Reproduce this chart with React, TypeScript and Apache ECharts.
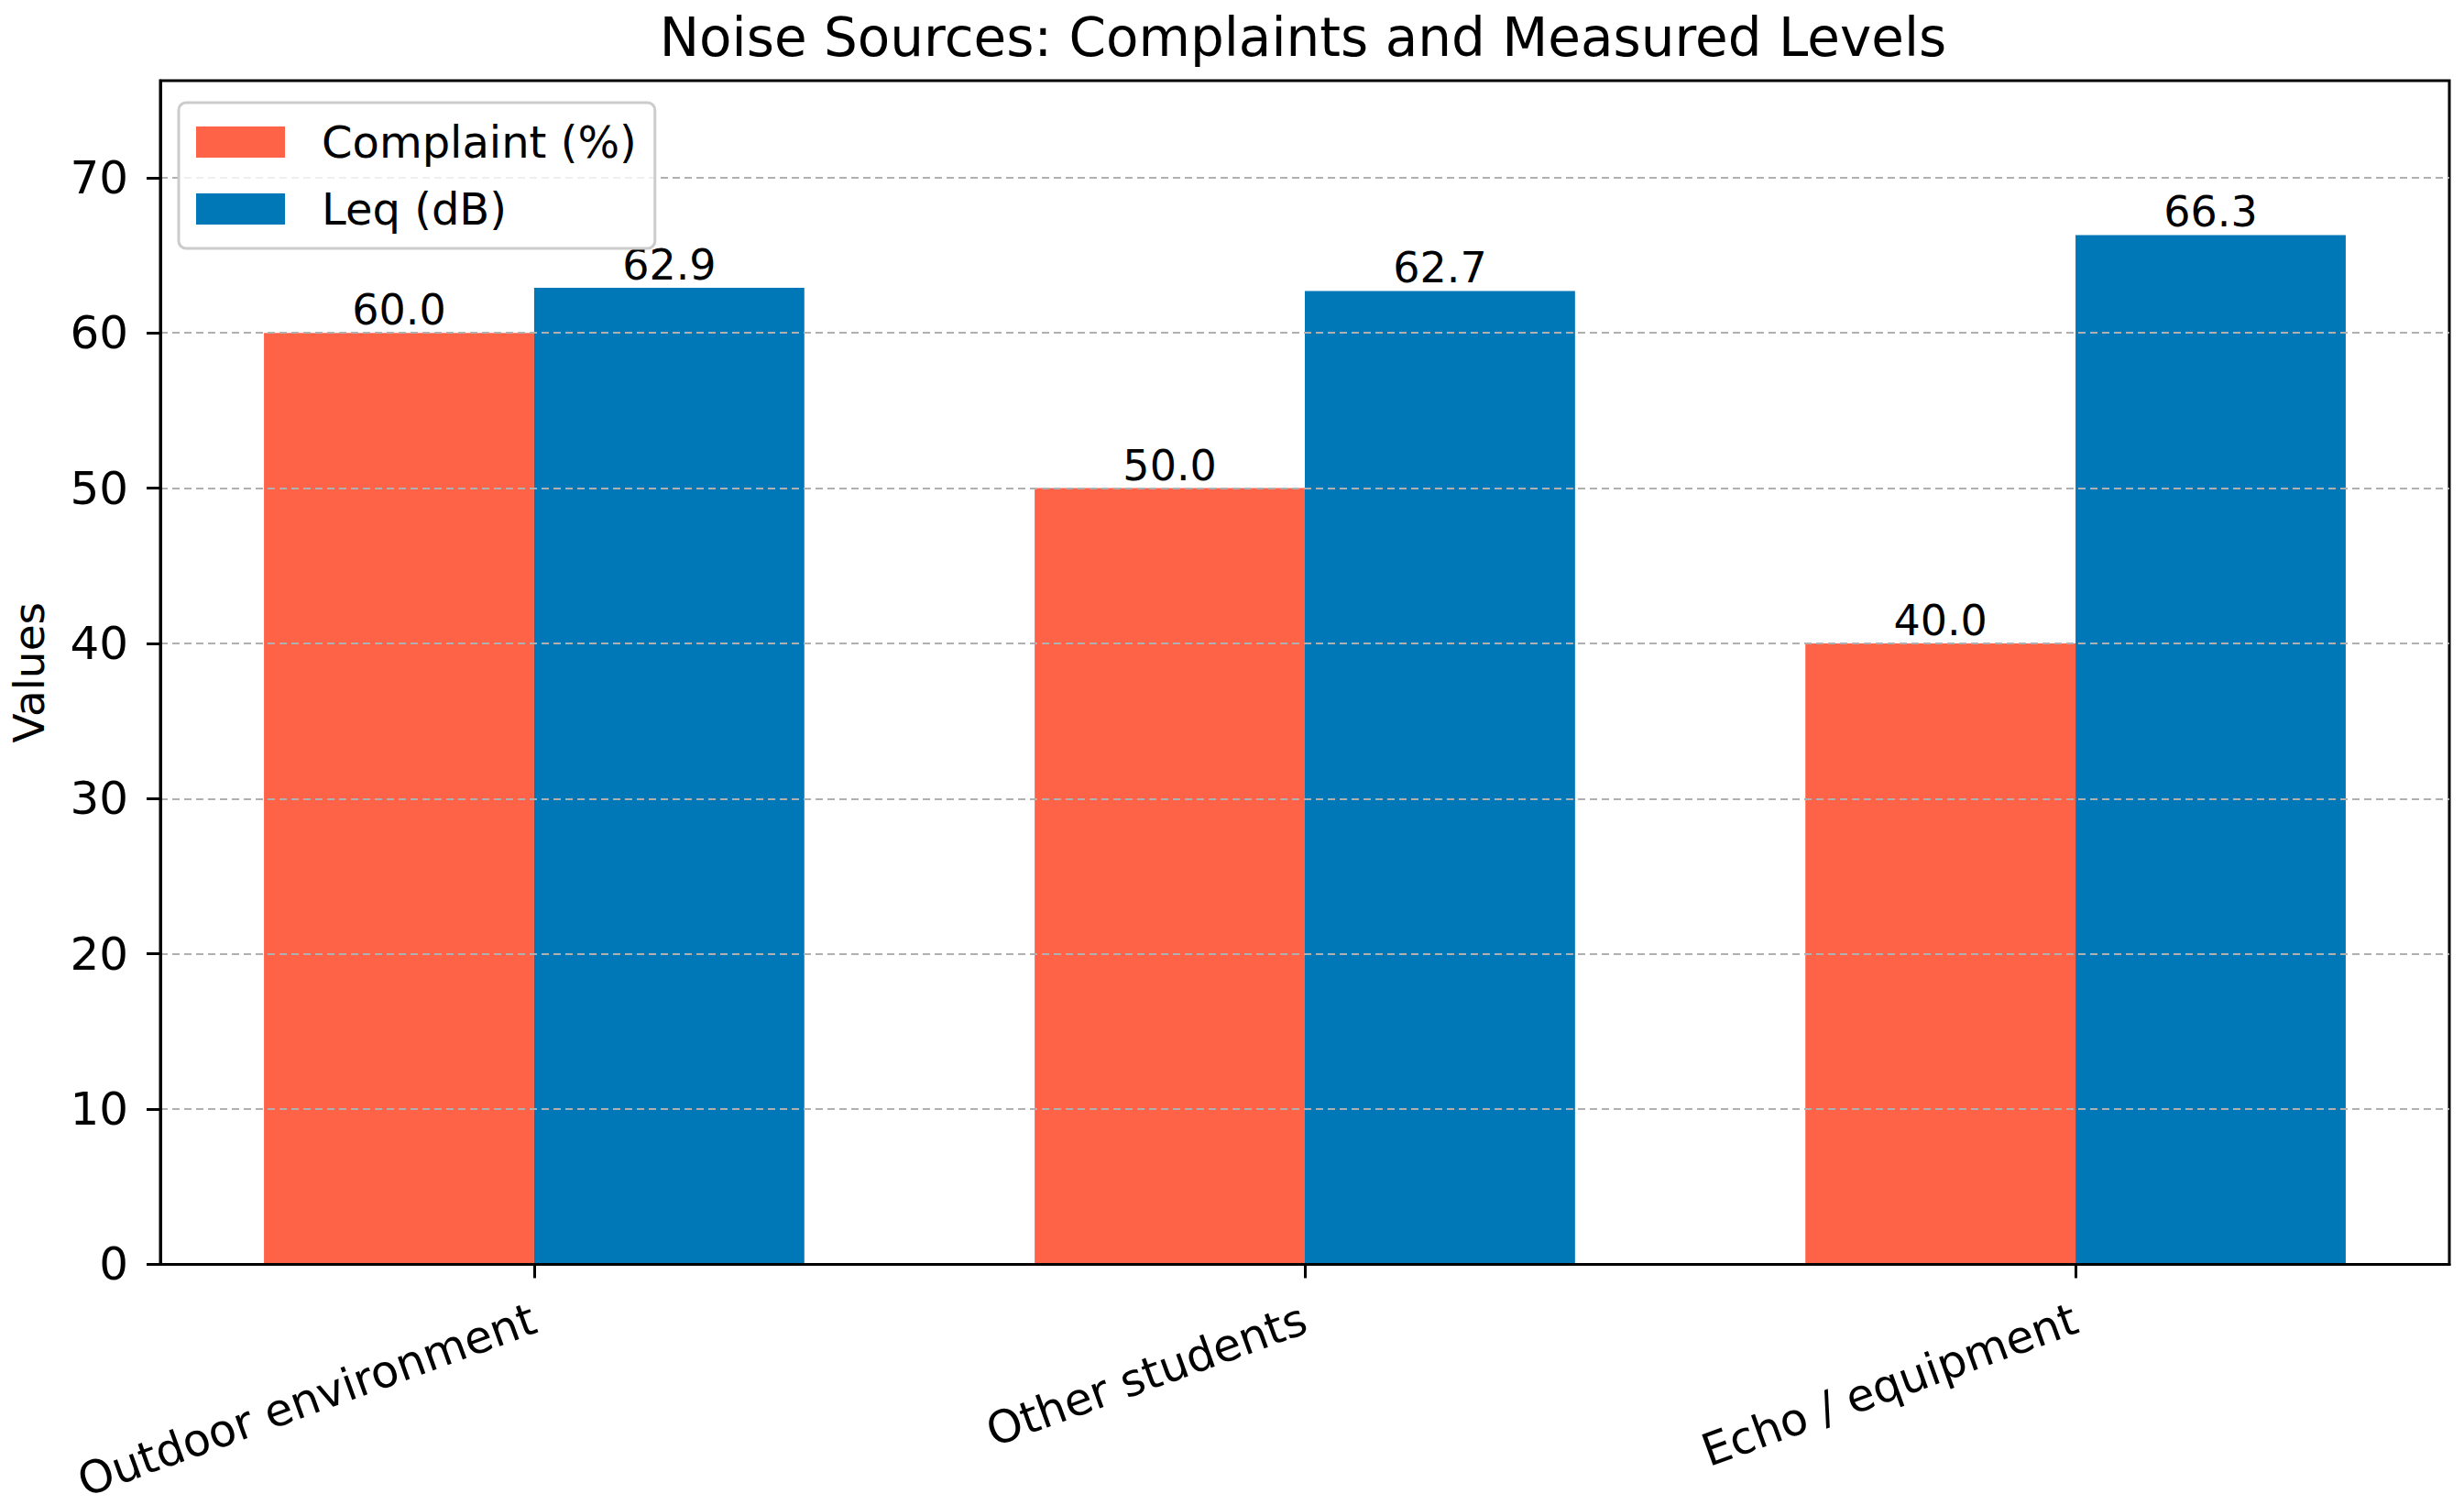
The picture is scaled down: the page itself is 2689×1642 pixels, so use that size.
import React, { useEffect, useRef } from "react";
import * as echarts from "echarts";

const categories = ["Outdoor environment", "Other students", "Echo / equipment"];
const complaintValues = [60.0, 50.0, 40.0];
const leqValues = [62.9, 62.7, 66.3];
const seriesNames = ["Complaint (%)", "Leq (dB)"];
const yTickStep = 10;
const titleText = "Noise Sources: Complaints and Measured Levels";

const W = 2689;
const H = 1642;
const FONT = "DejaVu Sans";

export default function App() {
  const ref = useRef<HTMLDivElement>(null);
  useEffect(() => {
    document.body.style.margin = "0";
    const chart = echarts.init(ref.current!, null, { renderer: "svg" });
    const plotLeft = 171;
    const plotRight = 2673;
    const plotTop = 88;
    const plotBottom = 1383;
    const xMin = -0.485;
    const xMax = categories.length - 1 + 0.485;
    const unit = (plotRight - plotLeft) / (xMax - xMin);
    const barW = 0.35 * unit;
    const yMax = Math.max(...complaintValues, ...leqValues) * 1.15;
    const idx = categories.map((_, i) => i);

    const labelStyle = {
      show: true,
      position: "top",
      distance: 2,
      color: "#000",
      fontFamily: FONT,
      fontSize: 46,
      formatter: (p: any) => Number(p.value[1]).toFixed(1),
    };

    chart.setOption({
      animation: false,
      backgroundColor: "#fff",
      graphic: [
        {
          type: "text",
          x: (plotLeft + plotRight) / 2,
          y: 41,
          style: {
            text: titleText,
            fontFamily: FONT,
            fontSize: 58,
            fill: "#000",
            textAlign: "center",
            textVerticalAlign: "middle",
          },
        },
      ],
      legend: {
        data: seriesNames,
        orient: "vertical",
        left: 195,
        top: 112,
        icon: "rect",
        itemWidth: 97,
        itemHeight: 34,
        itemGap: 25,
        padding: [19, 20, 19, 19],
        borderColor: "#cccccc",
        borderWidth: 3,
        borderRadius: 8,
        backgroundColor: "rgba(255,255,255,0.8)",
        textStyle: {
          fontFamily: FONT,
          fontSize: 48,
          color: "#000",
          padding: [0, 0, 0, 35],
        },
        z: 10,
      },
      grid: {
        left: plotLeft,
        top: plotTop,
        width: plotRight - plotLeft,
        height: plotBottom - plotTop,
        show: true,
        borderColor: "#000",
        borderWidth: 3,
        backgroundColor: "transparent",
      },
      xAxis: {
        type: "value",
        min: xMin,
        max: xMax,
        z: 3,
        splitLine: { show: false },
        axisLine: { show: true, onZero: false, lineStyle: { color: "#000", width: 3 } },
        axisTick: {
          show: true,
          customValues: idx,
          length: 15,
          lineStyle: { color: "#000", width: 3 },
        },
        axisLabel: {
          customValues: idx,
          rotate: 20,
          margin: 58,
          fontFamily: FONT,
          fontSize: 49,
          color: "#000",
          formatter: (v: number) => categories[Math.round(v)] ?? "",
        },
      },
      yAxis: {
        type: "value",
        min: 0,
        max: yMax,
        interval: yTickStep,
        z: 3,
        name: "Values",
        nameLocation: "middle",
        nameGap: 120,
        nameTextStyle: { fontFamily: FONT, fontSize: 47, color: "#000" },
        axisLine: { show: true, onZero: false, lineStyle: { color: "#000", width: 3 } },
        axisTick: { show: true, length: 15, lineStyle: { color: "#000", width: 3 } },
        axisLabel: {
          margin: 35,
          fontFamily: FONT,
          fontSize: 50,
          color: "#000",
          showMaxLabel: false,
        },
        splitLine: {
          show: true,
          showMaxLine: false,
          showMinLine: false,
          lineStyle: { color: "#b0b0b0", width: 2, type: [8, 5] },
        },
      },
      series: [
        {
          name: seriesNames[0],
          type: "bar",
          barWidth: barW,
          barGap: "0%",
          itemStyle: { color: "#FF6347" },
          label: labelStyle,
          data: complaintValues.map((v, i) => [i, v]),
        },
        {
          name: seriesNames[1],
          type: "bar",
          barWidth: barW,
          barGap: "0%",
          itemStyle: { color: "#0077B6" },
          label: labelStyle,
          data: leqValues.map((v, i) => [i, v]),
        },
      ],
    });
    return () => chart.dispose();
  }, []);
  return <div ref={ref} style={{ width: W, height: H }} />;
}
